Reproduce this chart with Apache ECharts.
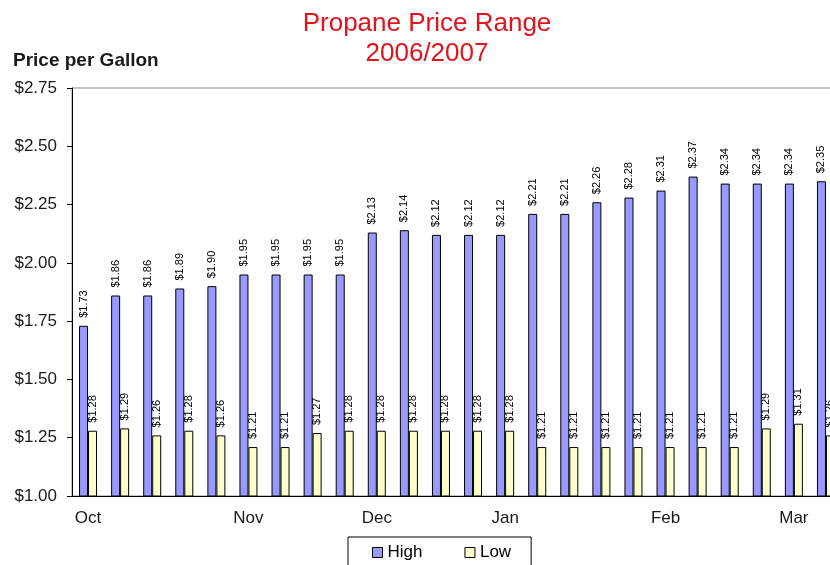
<!DOCTYPE html>
<html>
<head>
<meta charset="utf-8">
<title>Propane Price Range</title>
<script src="https://cdn.jsdelivr.net/npm/echarts@6/dist/echarts.min.js"></script>
<style>
  html, body {
    margin: 0;
    padding: 0;
    background: #fff;
    overflow: hidden;
  }
  /* plot runs a bit past the right edge, like the original */
  #chart {
    width: 845px;
    height: 565px;
  }
</style>
</head>
<body>
<div id="chart"></div>
<script>
// weekly prices, Oct 2006 - Mar 2007
const weeks = ['Oct', '', '', '', '', 'Nov', '', '', '', 'Dec', '', '', '',
  'Jan', '', '', '', '', 'Feb', '', '', '', 'Mar', ''];
const high = [1.73, 1.86, 1.86, 1.89, 1.90, 1.95, 1.95, 1.95, 1.95, 2.13, 2.14, 2.12,
  2.12, 2.12, 2.21, 2.21, 2.26, 2.28, 2.31, 2.37, 2.34, 2.34, 2.34, 2.35];
const low = [1.28, 1.29, 1.26, 1.28, 1.26, 1.21, 1.21, 1.27, 1.28, 1.28, 1.28, 1.28,
  1.28, 1.28, 1.21, 1.21, 1.21, 1.21, 1.21, 1.21, 1.21, 1.29, 1.31, 1.26];
const yMin = 1.0;
const yMax = 2.75;
const yStep = 0.25;

const font = 'Liberation Sans, Arial, sans-serif';

let barLabel = {
  show: true,
  position: 'top',
  rotate: 90,
  align: 'left',
  verticalAlign: 'middle',
  distance: 8,
  fontFamily: font,
  fontSize: 11,
  color: '#000',
  formatter: (p) => '$' + p.value.toFixed(2)
};

let option = {
  animation: false,
  graphic: [
    {
      // two-line red title, centred over x = 427
      type: 'text',
      x: 427,
      y: 9,
      style: {
        text: 'Propane Price Range\n2006/2007',
        textAlign: 'center',
        textVerticalAlign: 'top',
        font: '26px ' + font,
        lineHeight: 30,
        fill: '#e3121b'
      }
    },
    {
      type: 'text',
      left: 13,
      top: 51,
      style: {
        text: 'Price per Gallon',
        font: 'bold 19px ' + font,
        fill: '#1a1a1a'
      }
    }
  ],
  legend: {
    left: 348,
    top: 537,
    padding: [7, 20, 20, 24],
    itemGap: 42,
    itemWidth: 10,
    itemHeight: 10,
    icon: 'rect',
    borderColor: '#000',
    borderWidth: 1,
    textStyle: {
      fontFamily: font,
      fontSize: 17,
      color: '#000'
    },
    itemStyle: {
      borderColor: '#000',
      borderWidth: 1
    },
    data: ['High', 'Low']
  },
  grid: {
    left: 72,
    top: 88,
    width: 770,
    height: 408,
    outerBoundsMode: 'none',
    show: true,
    borderColor: '#8c8c8c',
    borderWidth: 1
  },
  xAxis: {
    type: 'category',
    data: weeks,
    axisLine: { lineStyle: { color: '#000', width: 1 } },
    axisTick: {
      interval: 0,
      length: 6,
      lineStyle: { color: '#000' }
    },
    axisLabel: {
      interval: 0,
      margin: 14,
      fontFamily: font,
      fontSize: 17,
      color: '#1a1a1a'
    }
  },
  yAxis: {
    type: 'value',
    min: yMin,
    max: yMax,
    interval: yStep,
    splitLine: { show: false },
    axisLine: { show: true, lineStyle: { color: '#000', width: 1 } },
    axisTick: { show: true, length: 5, lineStyle: { color: '#000' } },
    axisLabel: {
      margin: 15,
      fontFamily: font,
      fontSize: 17,
      color: '#1a1a1a',
      formatter: (v) => '$' + v.toFixed(2)
    }
  },
  series: [
    {
      name: 'High',
      type: 'bar',
      data: high,
      barWidth: 9,
      barGap: '0%',
      itemStyle: { color: '#9999ff', borderColor: '#000', borderWidth: 1 },
      label: barLabel
    },
    {
      name: 'Low',
      type: 'bar',
      data: low,
      barWidth: 9,
      itemStyle: { color: '#ffffcc', borderColor: '#000', borderWidth: 1 },
      label: barLabel
    }
  ]
};

let chart = echarts.init(document.getElementById('chart'));
chart.setOption(option);
</script>
</body>
</html>
